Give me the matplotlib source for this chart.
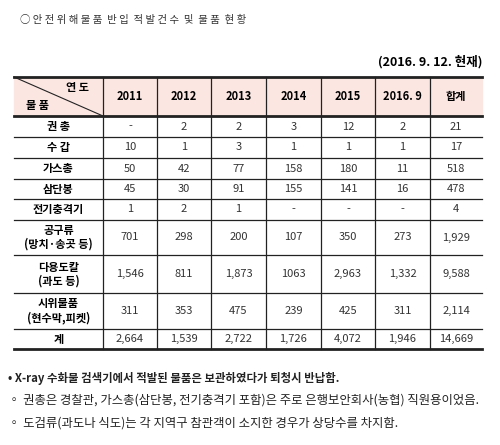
import matplotlib.pyplot as plt

plt.rcParams['font.family'] = ['Noto Sans CJK KR', 'DejaVu Sans']

title = "○ 안 전 위 해 물 품  반 입  적 발 건 수  및  물 품  현 황"
date_note = "(2016. 9. 12. 현재)"
years = ["2011", "2012", "2013", "2014", "2015", "2016. 9", "합계"]
items = ["권 총", "수 갑", "가스총", "삼단봉", "전기충격기",
         "공구류\n(망치·송곳 등)", "다용도칼\n(과도 등)", "시위물품\n(현수막,피켓)", "계"]
values = [
    ["-", "2", "2", "3", "12", "2", "21"],
    ["10", "1", "3", "1", "1", "1", "17"],
    ["50", "42", "77", "158", "180", "11", "518"],
    ["45", "30", "91", "155", "141", "16", "478"],
    ["1", "2", "1", "-", "-", "-", "4"],
    ["701", "298", "200", "107", "350", "273", "1,929"],
    ["1,546", "811", "1,873", "1063", "2,963", "1,332", "9,588"],
    ["311", "353", "475", "239", "425", "311", "2,114"],
    ["2,664", "1,539", "2,722", "1,726", "4,072", "1,946", "14,669"],
]
notes = [
    ("• X-ray 수화물 검색기에서 적발된 물품은 보관하였다가 퇴청시 반납함.", "bold"),
    ("◦ 권총은 경찰관, 가스총(삼단봉, 전기충격기 포함)은 주로 은행보안회사(농협) 직원용이었음.", "normal"),
    ("◦ 도검류(과도나 식도)는 각 지역구 참관객이 소지한 경우가 상당수를 차지함.", "normal"),
]

cols = [14, 103, 157, 211, 266, 321, 375, 430, 482]
rows = [77, 116, 137, 158, 179, 199, 220, 255, 293, 329, 349]

fig = plt.figure(figsize=(5, 4.45), dpi=100)
ax = fig.add_axes([0, 0, 1, 1])
ax.set_xlim(0, 500)
ax.set_ylim(445, 0)
ax.axis('off')

ax.text(20, 20, title, fontsize=7.5, va='center', ha='left', color='#333333')
ax.text(483, 62, date_note, fontsize=9, va='center', ha='right', fontweight='bold')

# header background
ax.fill_between([cols[0], cols[-1]], rows[0], rows[1], color='#fbe6e2', zorder=0)

# grid lines
for i, y in enumerate(rows):
    lw = 2 if i in (0, 1, len(rows) - 1) else 0.9
    ax.plot([cols[0], cols[-1]], [y, y], color='#222222', lw=lw)
for x in cols[1:-1]:
    ax.plot([x, x], [rows[0], rows[-1]], color='#222222', lw=0.9)
ax.plot([cols[0], cols[1]], [rows[0], rows[1]], color='#222222', lw=0.8)

# header
ax.text(78, 87, "연 도", fontsize=8, fontweight='bold', ha='center', va='center')
ax.text(38, 106, "물 품", fontsize=8, fontweight='bold', ha='center', va='center')
for j, yr in enumerate(years):
    ax.text((cols[j + 1] + cols[j + 2]) / 2, (rows[0] + rows[1]) / 2, yr,
            fontsize=8, fontweight='bold', ha='center', va='center')

for i, name in enumerate(items):
    yc = (rows[i + 1] + rows[i + 2]) / 2
    ax.text((cols[0] + cols[1]) / 2, yc, name, fontsize=8, fontweight='bold',
            ha='center', va='center', linespacing=1.1)
    for j, v in enumerate(values[i]):
        ax.text((cols[j + 1] + cols[j + 2]) / 2, yc, v, fontsize=8,
                ha='center', va='center', color='#333333')

for k, (t, w) in enumerate(notes):
    ax.text(8, 378 + k * 22.5, t, fontsize=8.9 if k else 8.2, fontweight=w,
            ha='left', va='center', color='#222222')

fig.savefig('out.png', dpi=100)
